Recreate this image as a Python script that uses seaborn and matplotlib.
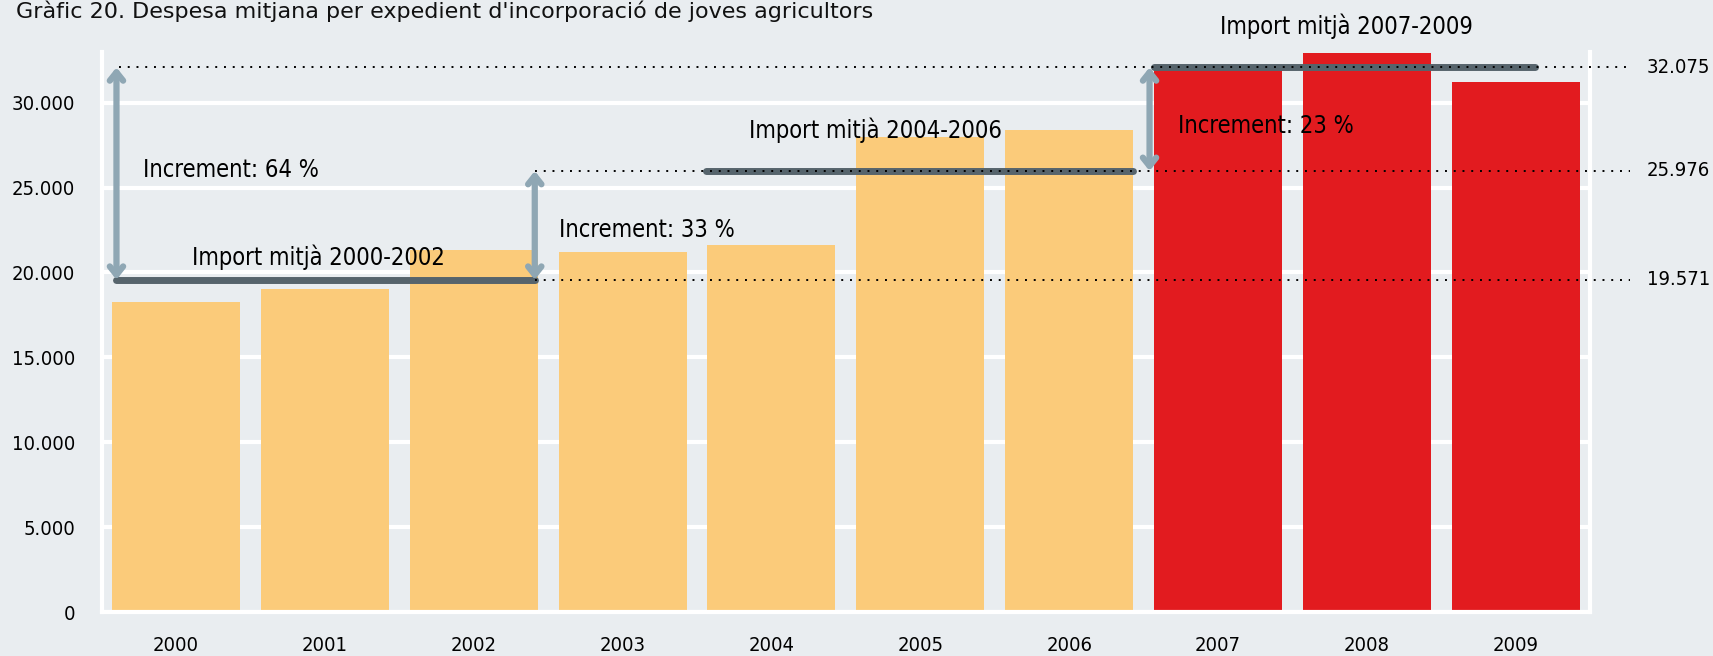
import numpy as np
import pandas as pd
import matplotlib
matplotlib.use('Agg')
import matplotlib.pyplot as plt
import seaborn as sns

# ---- data ----
years = ['2000', '2001', '2002', '2003', '2004', '2005', '2006', '2007', '2008', '2009']
despesa = [18260, 19000, 21300, 21200, 21600, 28000, 28380, 32200, 32930, 31220]
grup = ['base'] * 7 + ['recent'] * 3

mitjanes = [19571, 25976, 32075]
mitjana_labels = ['19.571', '25.976', '32.075']
periodes = ['Import mitjà 2000-2002', 'Import mitjà 2004-2006', 'Import mitjà 2007-2009']
increments = ['Increment: 64 %', 'Increment: 33 %', 'Increment: 23 %']
yticks = [0, 5000, 10000, 15000, 20000, 25000, 30000]

BG = '#e9edf0'
ORANGE = '#fbcb7a'
RED = '#e21b1f'
DARK = '#56646c'
ARROW = '#8fa7b4'

sns.set_theme(style='white')
plt.rcParams['font.family'] = ['DejaVu Sans']
plt.rcParams['font.stretch'] = 'condensed'
plt.rcParams['text.color'] = 'black'

df = pd.DataFrame({'Any': years, 'Despesa': despesa, 'Grup': grup})

fig = plt.figure(figsize=(17.13, 6.56), dpi=100, facecolor=BG)
ax = fig.add_axes([0.0593, 0.0667, 0.869, 0.8533])
ax.set_facecolor(BG)

sns.barplot(data=df, x='Any', y='Despesa', hue='Grup', dodge=False,
            palette={'base': ORANGE, 'recent': RED}, saturation=1,
            width=0.86, legend=False, ax=ax, zorder=2, linewidth=0)

ax.set_xlim(-0.5, 9.5)
ax.set_ylim(0, 32950)
ax.set_yticks(yticks)
ax.set_yticklabels([f'{v:,.0f}'.replace(',', '.') for v in yticks])
ax.grid(axis='y', color='white', linewidth=3, zorder=0)
ax.set_axisbelow(True)
for side in ['left', 'right', 'bottom']:
    ax.spines[side].set_color('white')
    ax.spines[side].set_linewidth(3)
ax.spines['top'].set_visible(False)
ax.tick_params(axis='both', length=0, labelsize=14.5, colors='black')
ax.tick_params(axis='y', pad=19)
ax.tick_params(axis='x', pad=17)
ax.set_xlabel('')
ax.set_ylabel('')

# horizontal average lines (dark)
spans = [(-0.40, 2.41), (3.56, 6.43), (6.57, 9.13)]
for (x0, x1), m in zip(spans, mitjanes):
    ax.plot([x0, x1], [m, m], color=DARK, lw=5, solid_capstyle='round', zorder=4,
            clip_on=False)

# dotted reference lines
dot_starts = [2.41, 2.41, -0.38]
for x0, m, lab in zip(dot_starts, mitjanes, mitjana_labels):
    ax.plot([x0, 9.77], [m, m], color='black', lw=1.4, linestyle=(0, (1, 3.5)),
            zorder=5, clip_on=False)
    ax.text(9.88, m, lab, fontsize=14.5, ha='left', va='center', clip_on=False)

# double arrows
arrow_specs = [(-0.40, mitjanes[0], mitjanes[2]),
               (2.41, mitjanes[0], mitjanes[1]),
               (6.54, mitjanes[1], mitjanes[2])]
for x, y0, y1 in arrow_specs:
    ax.annotate('', xy=(x, y1), xytext=(x, y0),
                arrowprops=dict(arrowstyle='<->,head_length=0.5,head_width=0.4',
                                color=ARROW, lw=4.5, shrinkA=0, shrinkB=0),
                zorder=6, annotation_clip=False)

# annotation texts
fs = 17
ax.text(-0.22, 26060, increments[0], fontsize=fs, ha='left', va='center', zorder=7)
ax.text(2.57, 22520, increments[1], fontsize=fs, ha='left', va='center', zorder=7)
ax.text(6.73, 28640, increments[2], fontsize=fs, ha='left', va='center', zorder=7)
ax.text(0.96, 20910, periodes[0], fontsize=fs, ha='center', va='center', zorder=7)
ax.text(4.70, 28380, periodes[1], fontsize=fs, ha='center', va='center', zorder=7)
ax.text(7.86, 34490, periodes[2], fontsize=fs, ha='center', va='center', zorder=7,
        clip_on=False)

fig.text(0.0093, 0.9726, "Gràfic 20. Despesa mitjana per expedient d'incorporació de joves agricultors",
         fontsize=16, ha='left', va='baseline', family=['DejaVu Sans'],
         stretch='normal', color='#111111')

fig.savefig('out.png', dpi=100, facecolor=BG)
